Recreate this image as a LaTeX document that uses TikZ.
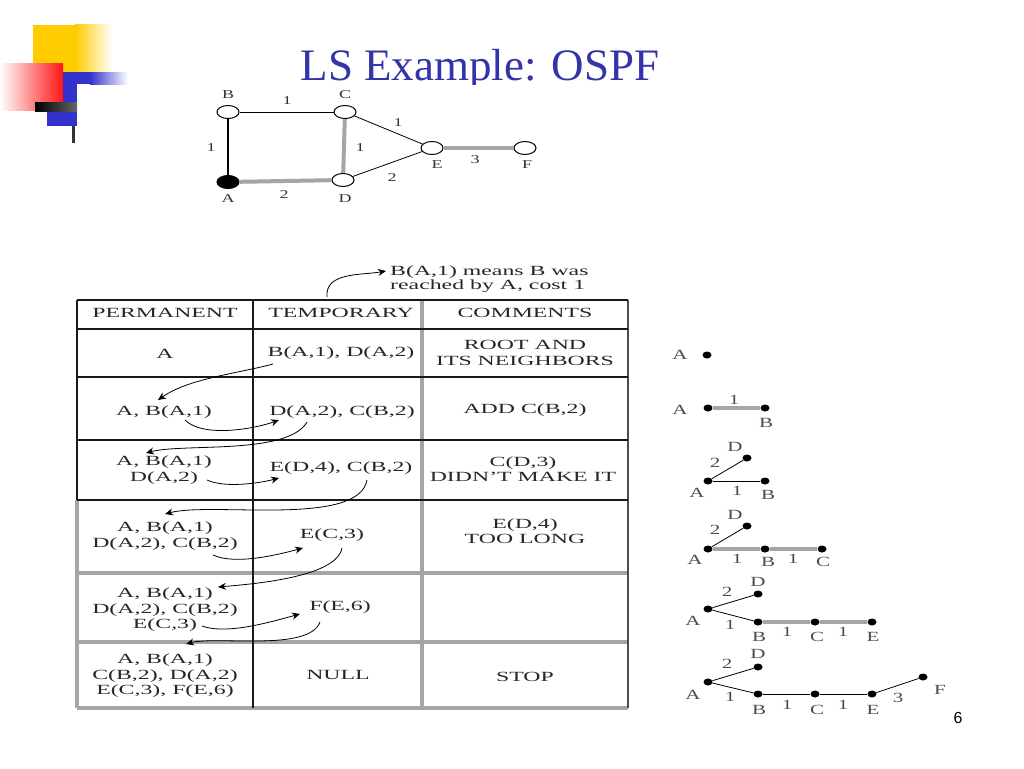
\documentclass[tikz,border=0pt]{standalone}
\usepackage{fontspec}
\setmainfont{Liberation Serif}
\setsansfont{Liberation Sans}
\usepackage{graphicx}
\usetikzlibrary{shapes.geometric,arrows.meta}

\definecolor{logoyellow}{RGB}{255,204,0}
\definecolor{logored}{RGB}{255,20,20}
\definecolor{logoblue}{RGB}{51,51,204}
\definecolor{titleblue}{RGB}{51,51,170}
\definecolor{tblgrey}{RGB}{165,165,165}

\newcommand\stx[1]{\scalebox{1.7}[1]{#1}}
\newcommand\gtx[1]{\scalebox{1.5}[1]{#1}}

\tikzset{
  cell/.style={font=\fontsize{14}{15.5}\selectfont, align=center, text=black!85, inner sep=0pt},
  glab/.style={font=\fontsize{12}{12}\selectfont, text=black!80, inner sep=0pt},
  tlab/.style={font=\fontsize{14}{14}\selectfont, text=black!70, inner sep=0pt},
  router/.style={ellipse, draw, line width=1pt, minimum width=22pt, minimum height=13pt, inner sep=0pt, fill=white},
  dot/.style={ellipse, fill=black, minimum width=9pt, minimum height=7pt, inner sep=0pt},
  thinlink/.style={line width=0.8pt},
  darklink/.style={line width=1.8pt},
  greylink/.style={line width=4pt, draw=tblgrey},
  blkline/.style={line width=1.5pt, draw=black!90},
  greyline/.style={line width=3.5pt, draw=tblgrey},
  arr/.style={-{Stealth[length=8pt,width=7pt]}, line width=0.8pt},
}

\begin{document}
\begin{tikzpicture}[x=1pt,y=1pt]
\useasboundingbox (0,0) rectangle (1024,-768);
\fill[white] (0,0) rectangle (1024,-768);

% logo
\fill[logoyellow] (33,-25) rectangle (75,-72);
\shade[left color=logoyellow, right color=white] (75,-25) rectangle (112,-72);
\shade[left color=white, right color=logored] (0,-63) rectangle (63,-110);
\fill[logoblue] (63,-72) rectangle (90,-84);
\shade[left color=logoblue, right color=white] (90,-72) rectangle (128,-84);
\fill[logoblue] (63,-72) rectangle (77,-126);
\fill[logoblue] (47,-112) rectangle (77,-126);
\shade[left color=black, right color=black!60] (35,-102) rectangle (77,-111);
\fill[black!80] (72,-126) rectangle (75,-143);

\node[font=\fontsize{45}{50}\selectfont, text=titleblue, anchor=base] (ttl) at (480,-81) {LS Example: OSPF};
\fill[white] (190,-85) rectangle (560,-210);

% network
\foreach \n/\x/\y in {B/228/-112, C/345/-112, D/343/-180, E/432/-148, F/525/-148}
  \node[router] (g\n) at (\x,\y) {};
\node[router, fill=black] (gA) at (228,-182) {};
\draw[thinlink] (gB) -- (gC);
\draw[darklink] (gB) -- (gA);
\draw[greylink] (gC) -- (gD);
\draw[greylink] (gA) -- (gD);
\draw[greylink] (gE) -- (gF);
\draw[thinlink] (gC) -- (gE);
\draw[thinlink] (gD) -- (gE);
\foreach \t/\x/\y [count=\i] in {B/228/-95, C/345/-95, A/228/-199, D/345/-199, E/437/-165, F/527/-165,
    1/287/-101, 1/211/-148, 1/360/-148, 1/398/-123, 2/392/-178, 2/284/-195, 3/475/-160}
  \node[glab] (gl\i) at (\x,\y) {\gtx{\t}};

% table
\draw[greyline] (422,-300) -- (422,-708);
\draw[greyline] (77,-500) -- (77,-708);
\draw[greyline] (77,-573) -- (628,-573);
\draw[greyline] (77,-642) -- (628,-642);
\draw[greyline] (77,-708) -- (628,-708);
\draw[blkline] (77,-300) -- (77,-500);
\draw[blkline] (253,-300) -- (253,-708);
\draw[blkline, draw=black!70] (628,-300) -- (628,-708);
\foreach \y in {300,329,377,440,500}
  \draw[blkline] (77,-\y) -- (628,-\y);

\node[cell] (p0) at (165,-313) {\stx{PERMANENT}};
\node[cell] (t0) at (341,-313) {\stx{TEMPORARY}};
\node[cell] (c0) at (525,-313) {\stx{COMMENTS}};
\node[cell] (p1) at (165,-354) {\stx{A}};
\node[cell] (t1) at (341,-353) {\stx{B(A,1), D(A,2)}};
\node[cell] (c1) at (525,-353) {\stx{ROOT AND}\\\stx{ITS NEIGHBORS}};
\node[cell] (p2) at (164,-412) {\stx{A, B(A,1)}};
\node[cell] (t2) at (342,-412) {\stx{D(A,2), C(B,2)}};
\node[cell] (c2) at (525,-410) {\stx{ADD C(B,2)}};
\node[cell] (p3) at (164,-470) {\stx{A, B(A,1)}\\\stx{D(A,2)}};
\node[cell] (t3) at (341,-468) {\stx{E(D,4), C(B,2)}};
\node[cell] (c3) at (523,-469) {\stx{C(D,3)}\\\stx{DIDN'T MAKE IT}};
\node[cell] (p4) at (165,-536) {\stx{A, B(A,1)}\\\stx{D(A,2), C(B,2)}};
\node[cell] (t4) at (332,-535) {\stx{E(C,3)}};
\node[cell] (c4) at (525,-531) {\stx{E(D,4)}\\\stx{TOO LONG}};
\node[cell] (p5) at (165,-610) {\stx{A, B(A,1)}\\\stx{D(A,2), C(B,2)}\\\stx{E(C,3)}};
\node[cell] (t5) at (340,-607) {\stx{F(E,6)}};
\node[cell] (p6) at (165,-676) {\stx{A, B(A,1)}\\\stx{C(B,2), D(A,2)}\\\stx{E(C,3), F(E,6)}};
\node[cell] (t6) at (338,-675) {\stx{NULL}};
\node[cell] (c6) at (525,-677) {\stx{STOP}};
\node[cell, anchor=west, align=left, font=\fontsize{14}{14.5}\selectfont] (note) at (390,-279)
  {\stx{B(A,1) means B was}\\\stx{reached by A, cost 1}};

% arrows
\foreach \n/\x/\y in {s0/327/-297, e0/386/-271, s1/273/-364, e1/158/-400, s2/185/-420, e2/279/-420,
    s3/307/-422, e3/146/-453, s4/207/-480, e4/279/-478, s5/367/-480, e5/165/-514,
    s6/213/-555, e6/303/-548, s7/342/-548, e7/218/-587, s8/202/-626, e8/300/-614,
    s9/320/-622, e9/186/-644}
  \coordinate (\n) at (\x,\y);
\draw[arr] (s0) to[out=95,in=190] (e0);
\draw[arr] (s1) to[out=195,in=35,looseness=0.8] (e1);
\draw[arr] (s2) to[out=-45,in=200,looseness=0.7] (e2);
\draw[arr] (s3) to[out=-120,in=15,looseness=0.6] (e3);
\draw[arr] (s4) to[out=-25,in=195,looseness=0.7] (e4);
\draw[arr] (s5) to[out=-100,in=15,looseness=0.6] (e5);
\draw[arr] (s6) to[out=-25,in=195,looseness=0.7] (e6);
\draw[arr] (s7) to[out=-100,in=5,looseness=0.6] (e7);
\draw[arr] (s8) to[out=-20,in=195,looseness=0.7] (e8);
\draw[arr] (s9) to[out=-110,in=15,looseness=0.6] (e9);

% shortest path trees
\foreach \n/\x/\y in {1a/707/-355, 2a/708/-408, 2b/765/-408,
    3a/708/-481, 3d/747/-458, 3b/765/-481,
    4a/708/-549, 4d/747/-526, 4b/765/-549, 4c/822/-549,
    5a/708/-609, 5d/758/-594, 5b/758/-622, 5c/815/-622, 5e/872/-622,
    6a/708/-682, 6d/758/-667, 6b/758/-694, 6c/815/-694, 6e/872/-694, 6f/923/-677}
  \node[dot] (t\n) at (\x,\y) {};
\foreach \a/\b in {2a/2b, 4a/4b, 4b/4c, 5b/5c, 5c/5e}
  \draw[greylink, line width=3.5pt] (t\a) -- (t\b);
\foreach \a/\b in {3a/3d, 3a/3b, 4a/4d, 5a/5d, 5a/5b, 6a/6d, 6a/6b, 6b/6c, 6c/6e, 6e/6f}
  \draw[thinlink] (t\a) -- (t\b);
\foreach \t/\x/\y [count=\i] in {A/680/-355,
    A/680/-410, 1/734/-400, B/766/-423,
    D/735/-447, 2/715/-463, A/697/-493, 1/737/-491, B/768/-495,
    D/735/-515, 2/715/-530, A/695/-560, 1/737/-559, B/768/-562, 1/793/-559, C/823/-562,
    D/758/-582, 2/727/-592, A/693/-621, 1/730/-625, B/759/-637, 1/787/-632, C/817/-637, 1/843/-632, E/873/-637,
    D/758/-654, 2/727/-664, A/693/-695, 1/730/-697, B/759/-710, 1/787/-705, C/817/-710, 1/843/-705, E/873/-710,
    3/898/-698, F/940/-690}
  \node[tlab] (tl\i) at (\x,\y) {\gtx{\t}};

\node[font=\sffamily\fontsize{16}{16}\selectfont] (pg) at (958,-718) {6};
\end{tikzpicture}
\end{document}
